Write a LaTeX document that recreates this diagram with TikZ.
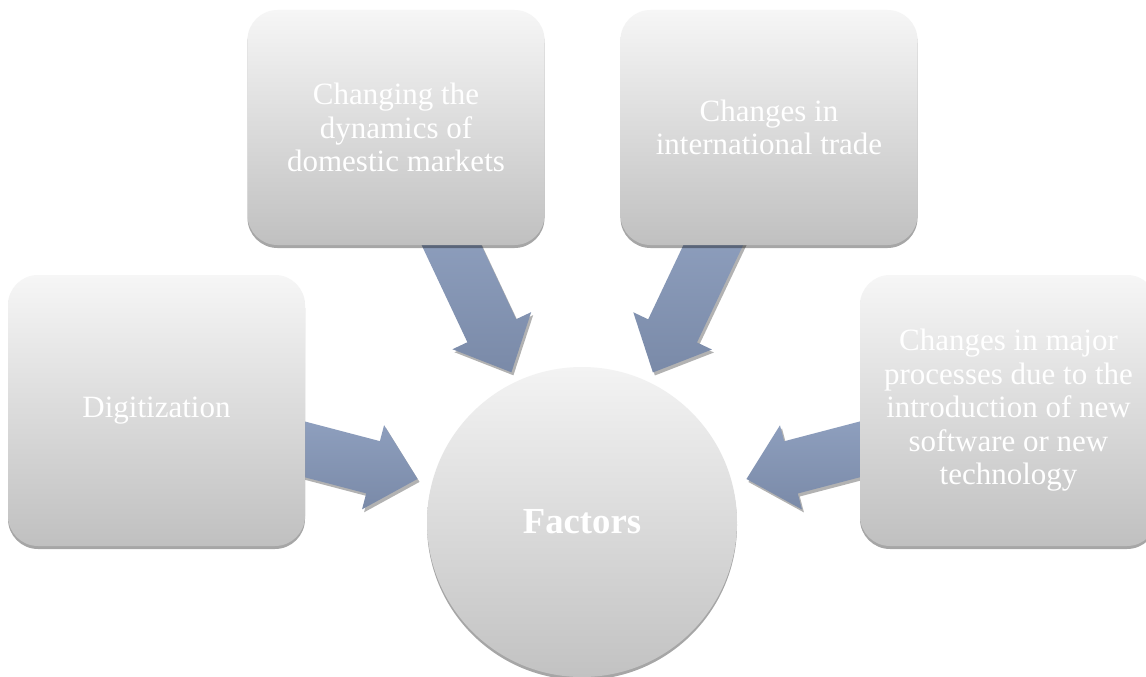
\documentclass[tikz,border=0pt]{standalone}
\usepackage{fontspec}
\setmainfont{Liberation Serif}
\usepackage{tikz}
\usetikzlibrary{calc,shadows,backgrounds}
\definecolor{boxtop}{RGB}{246,246,246}
\definecolor{boxbottom}{RGB}{192,192,192}
\definecolor{hubtop}{RGB}{243,243,243}
\definecolor{hubbottom}{RGB}{194,194,194}
\definecolor{arrowtop}{RGB}{144,161,192}
\definecolor{arrowbottom}{RGB}{122,138,168}
\tikzset{
	factorbox/.style={
		rectangle,
		rounded corners=30pt,
		minimum width=297pt,
		minimum height=235pt,
		inner sep=0pt,
		top color=boxtop,
		bottom color=boxbottom,
		text=white,
		align=center,
		font=\fontsize{31}{33.5}\selectfont,
		drop shadow={shadow xshift=0pt,shadow yshift=-3pt,opacity=0.35,fill=black}
	},
	hub/.style={
		circle,
		minimum size=310pt,
		inner sep=0pt,
		top color=hubtop,
		bottom color=hubbottom,
		text=white,
		font=\bfseries\fontsize{36.7}{40}\selectfont,
		drop shadow={shadow xshift=0pt,shadow yshift=-3pt,opacity=0.35,fill=black}
	},
	blockbody/.style={
		top color=arrowtop,
		bottom color=arrowbottom
	},
	blockshadow/.style={
		fill=black,
		opacity=0.3,
		transform canvas={xshift=2pt,yshift=-3pt}
	}
}
% block arrow from box #1 towards hub #2, tip #3 away from the hub centre
\newcommand{\flowarrow}[3]{%
	\coordinate (#1-tip)  at ($(#2)!#3!(#1)$);
	\coordinate (#1-tail) at ($(#2)!330pt!(#1)$);
	\coordinate (#1-neck) at ($(#1-tip)!46pt!(#1-tail)$);
	\foreach \sty in {blockshadow,blockbody} {
		\path[\sty] ($(#1-tail)!27pt!90:(#1-tip)$) -- ($(#1-neck)!27pt!90:(#1-tip)$)
		-- ($(#1-neck)!43.5pt!90:(#1-tip)$) -- (#1-tip)
		-- ($(#1-neck)!43.5pt!-90:(#1-tip)$) -- ($(#1-neck)!27pt!-90:(#1-tip)$)
		-- ($(#1-tail)!27pt!-90:(#1-tip)$) -- cycle;
	}
}
\begin{document}
\begin{tikzpicture}[x=1pt,y=-1pt]
	\useasboundingbox (0,0) rectangle (1146,677);
	
	% --- CENTRE ---
	\node[hub] (factors) at (582,522) {Factors};
	
	% --- FACTOR BOXES ---
	\node[factorbox, minimum height=271pt] (digit) at (156.5,410.5) {Digitization};
	\node[factorbox] (domestic) at (396,127.5) {Changing the\\dynamics of\\domestic markets};
	\node[factorbox] (trade) at (769,127.5) {Changes in\\international trade};
	\node[factorbox, minimum height=271pt] (tech) at (1008.5,410.5)
	{Changes in major\\processes due to the\\introduction of new\\software or new\\technology};
	
	% --- ARROWS (behind the boxes) ---
	\begin{scope}[on background layer]
		\fill[white] (0,0) rectangle (1146,677);
		\flowarrow{domestic}{factors}{165.5pt}
		\flowarrow{trade}{factors}{165.5pt}
		\flowarrow{digit}{factors}{170pt}
		\flowarrow{tech}{factors}{170pt}
	\end{scope}
	
\end{tikzpicture}
\end{document}
